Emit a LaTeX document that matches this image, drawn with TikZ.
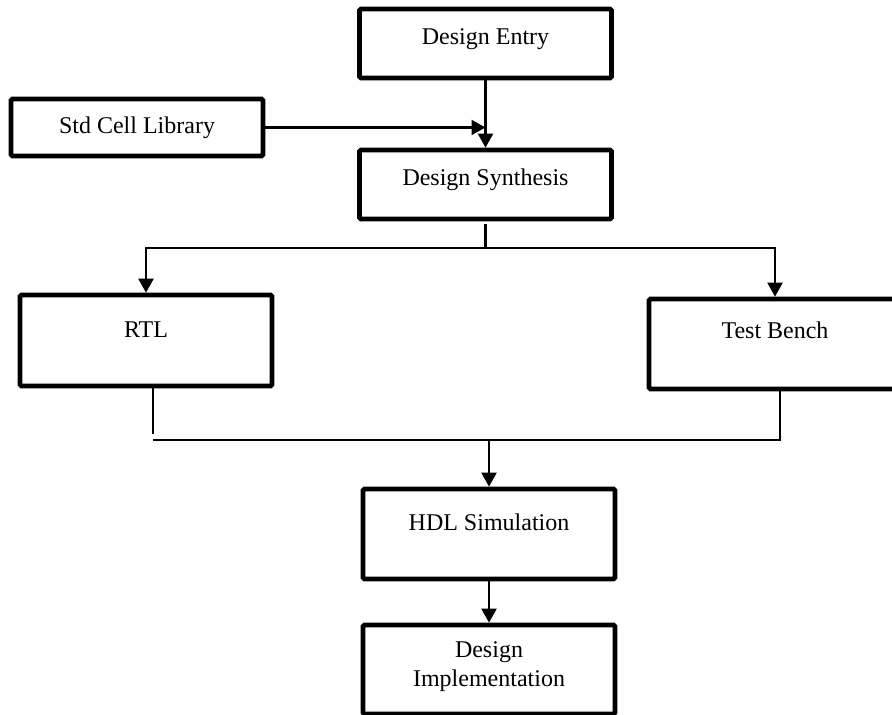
\documentclass[tikz,border=0pt]{standalone}
\usepackage{fontspec}
\setmainfont{Liberation Serif}
\usepackage{tikz}
\usetikzlibrary{arrows.meta,positioning}

\begin{document}
\begin{tikzpicture}[x=0.75pt,y=-0.75pt,>={Triangle[length=10.5pt,width=11pt]},font=\fontsize{18pt}{21.75pt}\selectfont]

\tikzset{
blk/.style={
    draw,
    line width=3.4pt,
    rounded corners=1pt,
    inner sep=0pt,
    minimum width=189pt,
    align=center
},
ln/.style={line width=2.2pt},
arr/.style={->,line width=2.2pt}
}

\useasboundingbox (0,0) rectangle (892,714);

\node[blk,minimum height=51.75pt,text height=26.25pt,text depth=25.5pt] (entry) at (485.5,43.5) {Design Entry};
\node[blk,minimum height=42.75pt,text height=25.5pt,text depth=17.25pt] (lib) at (137,127.5) {Std Cell Library};
\node[blk,minimum height=51.75pt,text height=26.25pt,text depth=25.5pt] (synth) at (485.5,184.5) {Design Synthesis};
\node[blk,minimum height=68.25pt,text height=31.5pt,text depth=36.75pt] (rtl) at (146,340.5) {RTL};
\node[blk,minimum height=67.5pt,text height=29.25pt,text depth=38.25pt] (tb) at (775,344) {Test Bench};
\node[blk,minimum height=67.5pt,text height=30.75pt,text depth=36.75pt] (hdl) at (489,534) {HDL Simulation};
\node[blk,minimum height=66.75pt,text height=45.75pt,text depth=21pt] (impl) at (489,669.5) {Design\\Implementation};

\coordinate (stub) at (485.5,224);
\coordinate (split) at (485.5,248);
\coordinate (gapL) at (153,434);
\coordinate (joinL) at (153,440);
\coordinate (joinR) at (780,440);

\draw[arr] (entry.south) -- (synth.north);
\draw[arr] (lib.east) -- (lib.east -| entry.south);

\draw[ln] (stub) -- (split);
\draw[arr] (split) -| (rtl.north);
\draw[arr] (split) -| (tb.north);

\draw[ln] (gapL |- rtl.south) -- (gapL);
\draw[ln] (joinL) -- (joinR) -- (joinR |- tb.south);
\draw[arr] (hdl.north |- joinL) -- (hdl.north);
\draw[arr] (hdl.south) -- (impl.north);

\end{tikzpicture}
\end{document}
